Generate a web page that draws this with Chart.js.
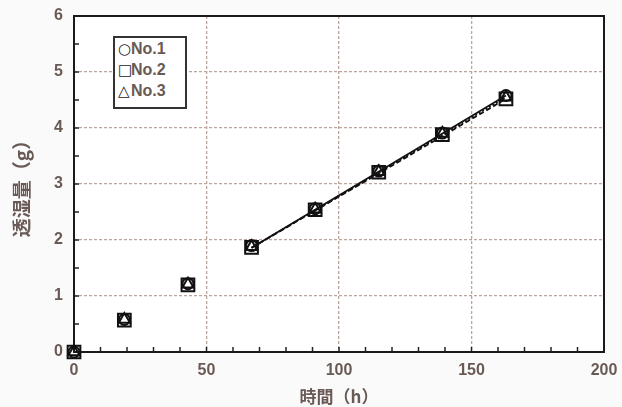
<!DOCTYPE html>
<html><head><meta charset="utf-8">
<script src="https://cdn.jsdelivr.net/npm/chart.js@4.4.0/dist/chart.umd.min.js"></script>
<style>
html,body{margin:0;padding:0;background:#fafafa;}
#wrap{position:relative;width:622px;height:407px;}
#legend{position:absolute;left:113px;top:36px;width:70px;height:69px;border:2px solid #333;background:#fff;box-sizing:content-box;
font:bold 16px "Liberation Sans",Arial,sans-serif;color:#6a5a55;}
#legend div{height:21px;line-height:21px;padding-left:3px;white-space:nowrap;}
#legend span{color:#222;font-weight:bold;display:inline-block;width:13px;font-family:"DejaVu Sans",sans-serif;font-size:15px;}
</style></head>
<body><div id="wrap"><canvas id="c" width="622" height="407"></canvas><div id="legend"></div></div>
<script>
const seriesNames = ['No.1','No.2','No.3'];
const legendGlyphs = ['○','□','△'];
const timeH = [0, 19, 43, 67, 91, 115, 139, 163];
const no1 = [0, 0.58, 1.22, 1.90, 2.56, 3.23, 3.91, 4.58];
const no2 = [0, 0.57, 1.20, 1.87, 2.54, 3.21, 3.88, 4.52];
const no3 = [0, 0.58, 1.21, 1.88, 2.55, 3.22, 3.90, 4.55];
const fitX = [67, 163];
const fit1 = [1.86, 4.58];
const fit2 = [1.86, 4.52];
const fit3 = [1.86, 4.55];
const xTicks = [0, 50, 100, 150, 200];
const yTicks = [0, 1, 2, 3, 4, 5, 6];

const pts = (xs, ys) => xs.map((x, i) => ({x, y: ys[i]}));
const styles = ['circle','rect','triangle'];
const radii = [5.5, 9, 6.5];
const vals = [no1, no2, no3];
const fits = [fit1, fit2, fit3];
const dashes = [[], [5,3], [2,2]];
const datasets = [];
fits.forEach((f, i) => datasets.push({
  label: 'fit' + (i+1), data: pts(fitX, f), showLine: true, borderColor: '#111', borderWidth: 1.8,
  borderDash: dashes[i], pointRadius: 0, fill: false, order: 2
}));
vals.forEach((v, i) => datasets.push({
  label: seriesNames[i], data: pts(timeH, v), showLine: false, pointStyle: styles[i], clip: false,
  pointRadius: radii[i], borderColor: '#111', borderWidth: 2, backgroundColor: 'rgba(255,255,255,0)', order: 1
}));

const lg = document.getElementById('legend');
seriesNames.forEach((n, i) => { const d = document.createElement('div'); d.innerHTML = '<span>' + legendGlyphs[i] + '</span>' + n; lg.appendChild(d); });

const tickColor = '#6a5a55';
const gridColor = '#bba59e';
const frame = {
  id: 'frame',
  beforeDatasetsDraw(chart) {
    const {ctx, chartArea: a, scales: {x, y}} = chart;
    ctx.save();
    ctx.strokeStyle = '#222'; ctx.lineWidth = 1.5;
    for (let v = 10; v < 200; v += 10) {
      const px = x.getPixelForValue(v);
      ctx.beginPath(); ctx.moveTo(px, a.bottom); ctx.lineTo(px, a.bottom - 5); ctx.stroke();
    }
    for (let v = 0.5; v < 6; v += 0.5) {
      const py = y.getPixelForValue(v);
      ctx.beginPath(); ctx.moveTo(a.left, py); ctx.lineTo(a.left + 5, py); ctx.stroke();
    }
    ctx.lineWidth = 2;
    ctx.strokeStyle = '#1a1a1a';
    ctx.strokeRect(a.left, a.top, a.right - a.left, a.bottom - a.top);
    ctx.restore();
  }
};
const bg = {
  id: 'bg',
  beforeDraw(chart) {
    const {ctx, chartArea: a} = chart;
    ctx.save(); ctx.fillStyle = '#ffffff'; ctx.fillRect(a.left, a.top, a.right - a.left, a.bottom - a.top); ctx.restore();
  }
};
const tickFont = {family: '"Liberation Sans", Arial, sans-serif', size: 16, weight: 'bold'};

new Chart(document.getElementById('c'), {
  type: 'scatter',
  data: {datasets},
  plugins: [bg, frame],
  options: {
    responsive: false, animation: false,
    layout: {padding: {left: 0, right: 18, top: 16, bottom: 0}},
    plugins: {legend: {display: false}, tooltip: {enabled: false}},
    scales: {
      x: {
        type: 'linear', min: 0, max: 200,
        afterBuildTicks: s => { s.ticks = xTicks.map(v => ({value: v})); },
        afterFit: s => { s.height = 55; s.paddingLeft = 0; s.paddingRight = 0; },
        grid: {color: gridColor, drawTicks: false, lineWidth: 1.3},
        border: {display: false, dash: [3,2]},
        ticks: {color: tickColor, padding: 9, font: tickFont, maxRotation: 0},
        title: {display: true, text: '時間（h）', color: tickColor, padding: {top: 4, bottom: 0},
          font: {family: '"Noto Sans CJK JP", sans-serif', size: 17, weight: 'bold'}}
      },
      y: {
        type: 'linear', min: 0, max: 6,
        afterBuildTicks: s => { s.ticks = yTicks.map(v => ({value: v})); },
        afterFit: s => { s.width = 74; s.paddingTop = 0; s.paddingBottom = 0; },
        grid: {color: gridColor, drawTicks: false, lineWidth: 1.3},
        border: {display: false, dash: [3,2]},
        ticks: {color: tickColor, padding: 11, font: tickFont},
        title: {display: true, text: '透湿量（g）', color: tickColor, padding: {top: 10, bottom: 0},
          font: {family: '"Noto Sans CJK JP", sans-serif', size: 19, weight: 'bold'}}
      }
    }
  }
});
</script></body></html>
